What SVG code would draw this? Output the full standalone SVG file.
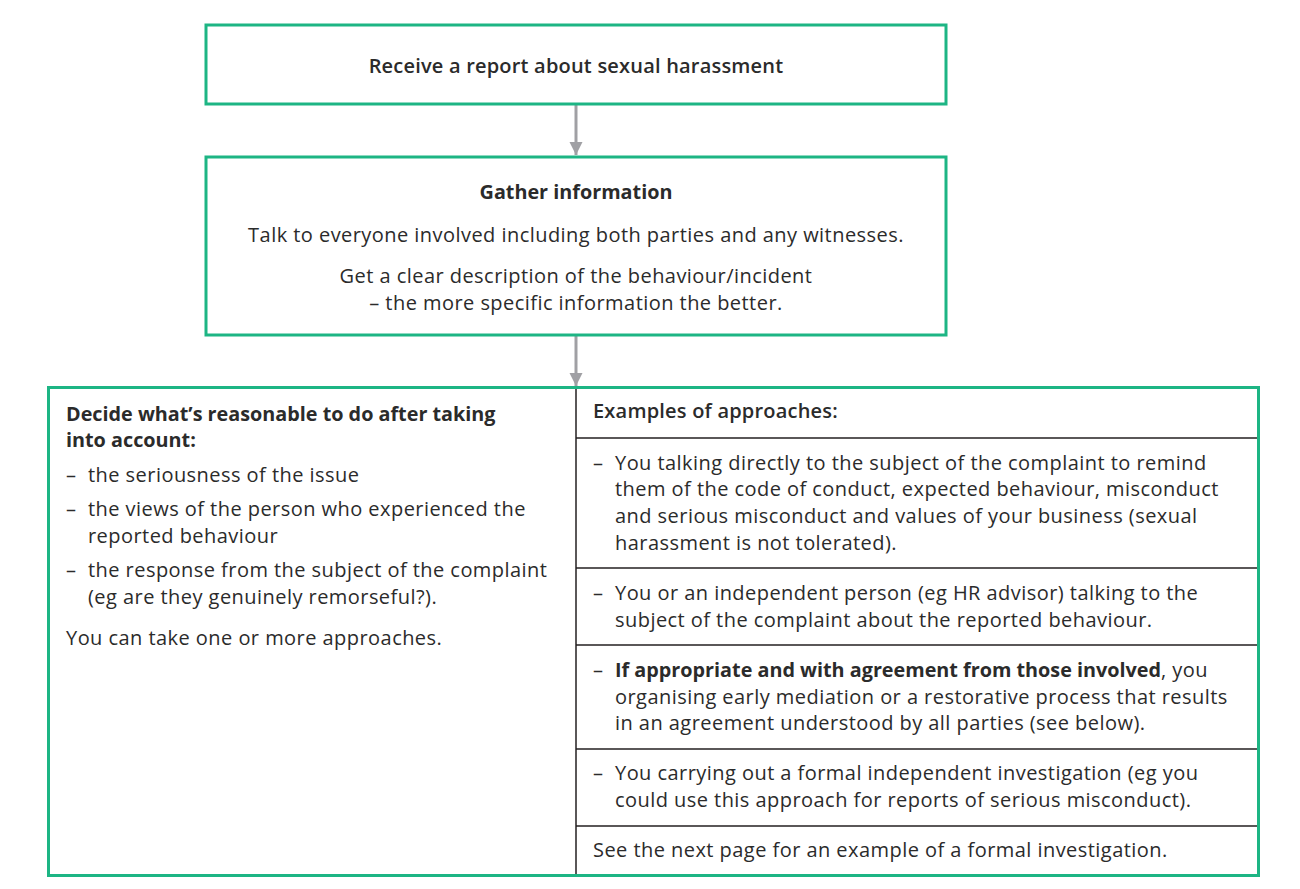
<svg xmlns="http://www.w3.org/2000/svg" width="1300" height="889" viewBox="0 0 1300 889">
<style>
.box{fill:#fff;stroke:#1db584;stroke-width:3}
.div{stroke:#231f20;stroke-width:1.5;fill:none}
.conn{stroke:#a0a0a4;stroke-width:3;fill:none}
text{font-family:"Open Sans","Liberation Sans",sans-serif;font-size:20px;letter-spacing:0.45px;fill:#2b2b2b}
.b{font-weight:700;font-size:19.8px;letter-spacing:0}
.m{font-weight:600;letter-spacing:0.2px}
.c{text-anchor:middle}
</style>
<defs>
<marker id="arr" viewBox="0 0 10 10" refX="10" refY="5" markerWidth="4.5" markerHeight="5.5" markerUnits="strokeWidth" orient="auto">
<path d="M0,0 L10,5 L0,10 z" fill="#a0a0a4"/>
</marker>
</defs>
<rect width="1300" height="889" fill="#fff"/>
<g id="connectors">
<line class="conn" x1="576" y1="104" x2="576" y2="155" marker-end="url(#arr)"/>
<line class="conn" x1="576" y1="335" x2="576" y2="386" marker-end="url(#arr)"/>
</g>
<g id="receive">
<rect class="box" x="206" y="25" width="740" height="79"/>
<text class="c m" x="576" y="73">Receive a report about sexual harassment</text>
</g>
<g id="gather">
<rect class="box" x="206" y="157" width="740" height="178"/>
<text class="c b" x="576" y="199">Gather information</text>
<text class="c" x="576" y="242">Talk to everyone involved including both parties and any witnesses.</text>
<text class="c" x="576" y="283">Get a clear description of the behaviour/incident</text>
<text class="c" x="576" y="310">– the more specific information the better.</text>
</g>
<g id="decide">
<rect class="box" x="48.5" y="387.5" width="1210" height="488"/>
<line class="div" x1="576" y1="389" x2="576" y2="874"/>
<text class="b" x="66" y="421">Decide what’s reasonable to do after taking</text>
<text class="b" x="66" y="447">into account:</text>
<text x="66" y="482">–</text><text x="88" y="482">the seriousness of the issue</text>
<text x="66" y="516">–</text><text x="88" y="516">the views of the person who experienced the</text>
<text x="88" y="543">reported behaviour</text>
<text x="66" y="577">–</text><text x="88" y="577">the response from the subject of the complaint</text>
<text x="88" y="604">(eg are they genuinely remorseful?).</text>
<text x="66" y="645">You can take one or more approaches.</text>
</g>
<g id="examples">
<line class="div" x1="576" y1="438" x2="1257" y2="438"/>
<line class="div" x1="576" y1="568" x2="1257" y2="568"/>
<line class="div" x1="576" y1="645" x2="1257" y2="645"/>
<line class="div" x1="576" y1="749" x2="1257" y2="749"/>
<line class="div" x1="576" y1="826" x2="1257" y2="826"/>
<text class="m" x="593" y="418">Examples of approaches:</text>
<text x="593" y="470">–</text><text x="615" y="470">You talking directly to the subject of the complaint to remind</text>
<text x="615" y="496">them of the code of conduct, expected behaviour, misconduct</text>
<text x="615" y="523">and serious misconduct and values of your business (sexual</text>
<text x="615" y="550">harassment is not tolerated).</text>
<text x="593" y="600">–</text><text x="615" y="600">You or an independent person (eg HR advisor) talking to the</text>
<text x="615" y="627">subject of the complaint about the reported behaviour.</text>
<text x="593" y="677">–</text><text x="615" y="677"><tspan class="b">If appropriate and with agreement from those involved</tspan>, you</text>
<text x="615" y="704">organising early mediation or a restorative process that results</text>
<text x="615" y="730">in an agreement understood by all parties (see below).</text>
<text x="593" y="780">–</text><text x="615" y="780">You carrying out a formal independent investigation (eg you</text>
<text x="615" y="807">could use this approach for reports of serious misconduct).</text>
<text x="593" y="857">See the next page for an example of a formal investigation.</text>
</g>
</svg>
